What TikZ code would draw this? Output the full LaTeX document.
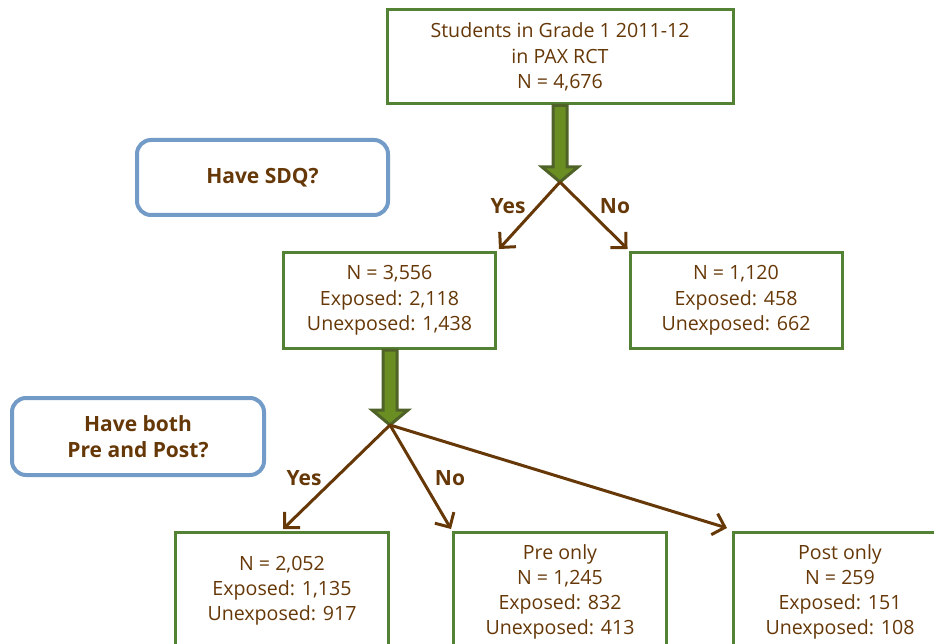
\documentclass[tikz,border=0pt]{standalone}
\usepackage{fontspec}
\setmainfont{Open Sans}
\usetikzlibrary{arrows.meta,calc}
\definecolor{boxgreen}{RGB}{84,130,53}
\definecolor{txtbrown}{RGB}{102,56,8}
\definecolor{qblue}{RGB}{114,155,200}
\definecolor{olivefill}{RGB}{107,142,35}
\definecolor{olivedark}{RGB}{79,98,40}
\tikzset{
  countbox/.style={draw=boxgreen, line width=3pt, fill=white, align=center,
    text=txtbrown, font=\fontsize{19.6}{25.5}\selectfont, inner sep=0pt},
  counttext/.style={text=txtbrown, font=\fontsize{19.6}{25.2}\selectfont, align=center},
  question/.style={draw=qblue, line width=4pt, rounded corners=14pt, fill=white,
    align=center, text=txtbrown, font=\fontsize{21}{25.5}\selectfont\bfseries, inner sep=0pt},
  branch/.style={draw=txtbrown, line width=3pt,
    -{Straight Barb[length=11pt,width=22pt,line width=3pt]}},
  answer/.style={text=txtbrown, font=\fontsize{21}{24}\selectfont\bfseries},
  bigarrow/.style={fill=olivefill, draw=olivedark, line width=3pt, line join=miter}
}
\begin{document}
\begin{tikzpicture}[x=1pt,y=-1pt]
\useasboundingbox (0,0) rectangle (934,644);
\clip (0,0) rectangle (934,644);

% boxes
\node[countbox, minimum width=346, minimum height=94] (top) at (560,57)
  {Students in Grade 1 2011-12\\in PAX RCT\\N = 4,676};
\node[question, minimum width=251, minimum height=75] (q1) at (262.5,177.5) {Have SDQ?};
\node[countbox, minimum width=212, minimum height=96] (midL) at (389.5,300.5)
  {N = 3,556\\Exposed: 2,118\\Unexposed: 1,438};
\node[countbox, minimum width=212, minimum height=96] (midR) at (736,300.5)
  {N = 1,120\\Exposed: 458\\Unexposed: 662};
\node[question, minimum width=252, minimum height=77] (q2) at (138,436.5) {Have both\\Pre and Post?};
\node[countbox, minimum width=213, minimum height=130, anchor=north] (botL) at (282,531) {};
\node[counttext] (botLt) at (282,591) {N = 2,052\\Exposed: 1,135\\Unexposed: 917};
\node[countbox, minimum width=213, minimum height=130, anchor=north] (botM) at (560,531) {};
\node[counttext] (botMt) at (560,592) {Pre only\\N = 1,245\\Exposed: 832\\Unexposed: 413};
\node[countbox, minimum width=213, minimum height=130, anchor=north] (botR) at (840,531) {};
\node[counttext] (botRt) at (840,592) {Post only\\N = 259\\Exposed: 151\\Unexposed: 108};

% branch points
\coordinate (b1) at (560,182);
\coordinate (b2) at (390,425);

% thick arrows into the branch points
\draw[bigarrow] ($(top.south)+(-7,0)$) -- ($(b1)+(-7,-15)$) -- ($(b1)+(-18,-15)$) -- (b1)
  -- ($(b1)+(18,-15)$) -- ($(b1)+(7,-15)$) -- ($(top.south)+(7,0)$) -- cycle;
\draw[bigarrow] ($(b2|-midL.south)+(-7,0)$) -- ($(b2)+(-7,-15)$) -- ($(b2)+(-18,-15)$) -- (b2)
  -- ($(b2)+(18,-15)$) -- ($(b2)+(7,-15)$) -- ($(b2|-midL.south)+(7,0)$) -- cycle;

% branches
\draw[branch] (b1) -- ($(midL.north east)+(2,-2)$);
\draw[branch] (b1) -- ($(midR.north west)+(-1,-2)$);
\draw[branch] (b2) -- ($(botL.north)+(1,-2)$);
\draw[branch] (b2) -- ($(botM.north west)+(-1,-2)$);
\draw[branch] (b2) -- ($(botR.north west)+(-5,-3)$);

% answer labels
\node[answer] (y1) at (508,206) {Yes};
\node[answer] (n1) at (615,206) {No};
\node[answer] (y2) at (304,478) {Yes};
\node[answer] (n2) at (450,478) {No};
\end{tikzpicture}
\end{document}
